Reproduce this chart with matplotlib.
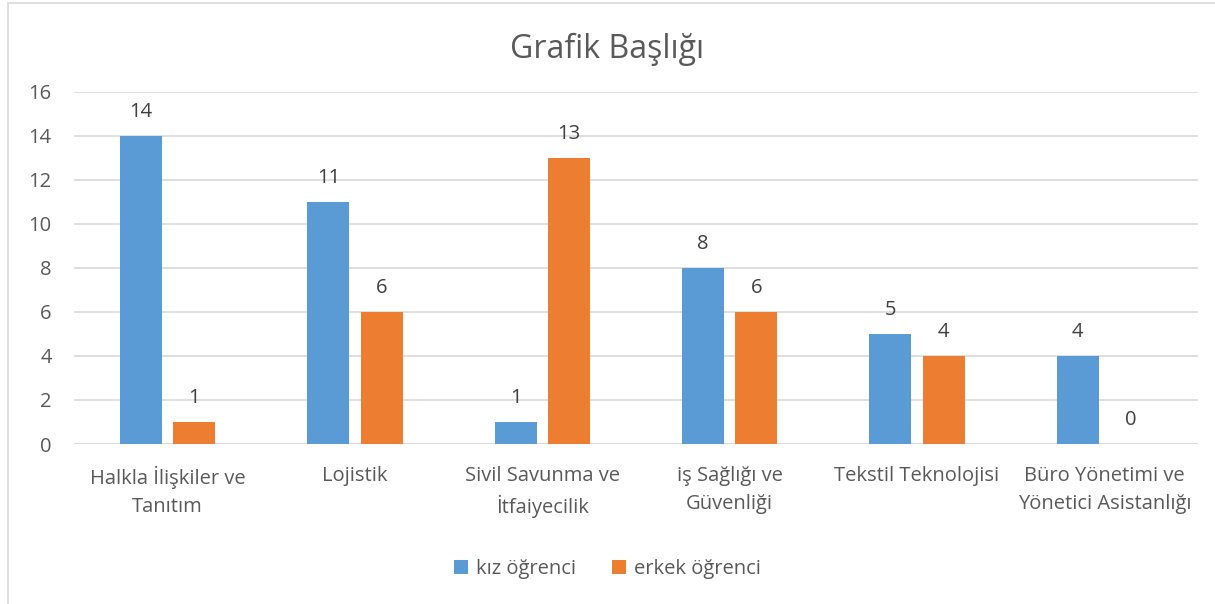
import matplotlib.pyplot as plt
import numpy as np
from matplotlib.patches import Rectangle

# Veriler
kategoriler = ['Halkla İlişkiler ve\nTanıtım', 'Lojistik', 'Sivil Savunma ve\nİtfaiyecilik',
               'iş Sağlığı ve\nGüvenliği', 'Tekstil Teknolojisi', 'Büro Yönetimi ve\nYönetici Asistanlığı']
kiz = [14, 11, 1, 8, 5, 4]
erkek = [1, 6, 13, 6, 4, 0]
seriler = ['kız öğrenci', 'erkek öğrenci']
renkler = ['#5B9BD5', '#ED7D31']

plt.rcParams['font.family'] = ['Open Sans', 'DejaVu Sans']
yazi = '#595959'

fig = plt.figure(figsize=(12.15, 6.04), dpi=100)
ax = fig.add_axes([0.0609, 0.2649, 0.9251, 0.5833])

# cerceve
fig.patches.append(Rectangle((8 / 1215, -0.01), 1.0, 1 - 3 / 604 + 0.01, transform=fig.transFigure,
                             fill=False, edgecolor='#D9D9D9', linewidth=1.2))

x = np.arange(len(kategoriler))
w = 0.224
b1 = ax.bar(x - 0.142, kiz, w, color=renkler[0], label=seriler[0], zorder=3)
b2 = ax.bar(x + 0.142, erkek, w, color=renkler[1], label=seriler[1], zorder=3)
ax.bar_label(b1, padding=10, fontsize=14.5, color='#404040')
ax.bar_label(b2, padding=10, fontsize=14.5, color='#404040')

ax.set_xlim(-0.5, 5.5)
ax.set_ylim(0, 16)
ax.set_yticks(range(0, 17, 2))
ax.set_xticks(x)
ax.set_xticklabels(kategoriler, fontsize=14.5, color=yazi, linespacing=1.5)
ax.tick_params(axis='y', labelsize=14.5, labelcolor=yazi, length=0, pad=16)
ax.tick_params(axis='x', length=0, pad=16)
ax.grid(axis='y', color='#D9D9D9', linewidth=1.2, zorder=0)
for s in ax.spines.values():
    s.set_visible(False)
ax.axhline(0, color='#D9D9D9', linewidth=1.2, zorder=1)

fig.text(0.5, 1 - 49 / 604, 'Grafik Başlığı', ha='center', va='center', fontsize=23, color=yazi)

fig.legend(loc='center', bbox_to_anchor=(0.5, 1 - 569 / 604), ncol=2, frameon=False,
           fontsize=14.5, labelcolor=yazi, handlelength=0.7, handleheight=0.7,
           columnspacing=1.8, handletextpad=0.4)

fig.savefig('out.png', dpi=100)
